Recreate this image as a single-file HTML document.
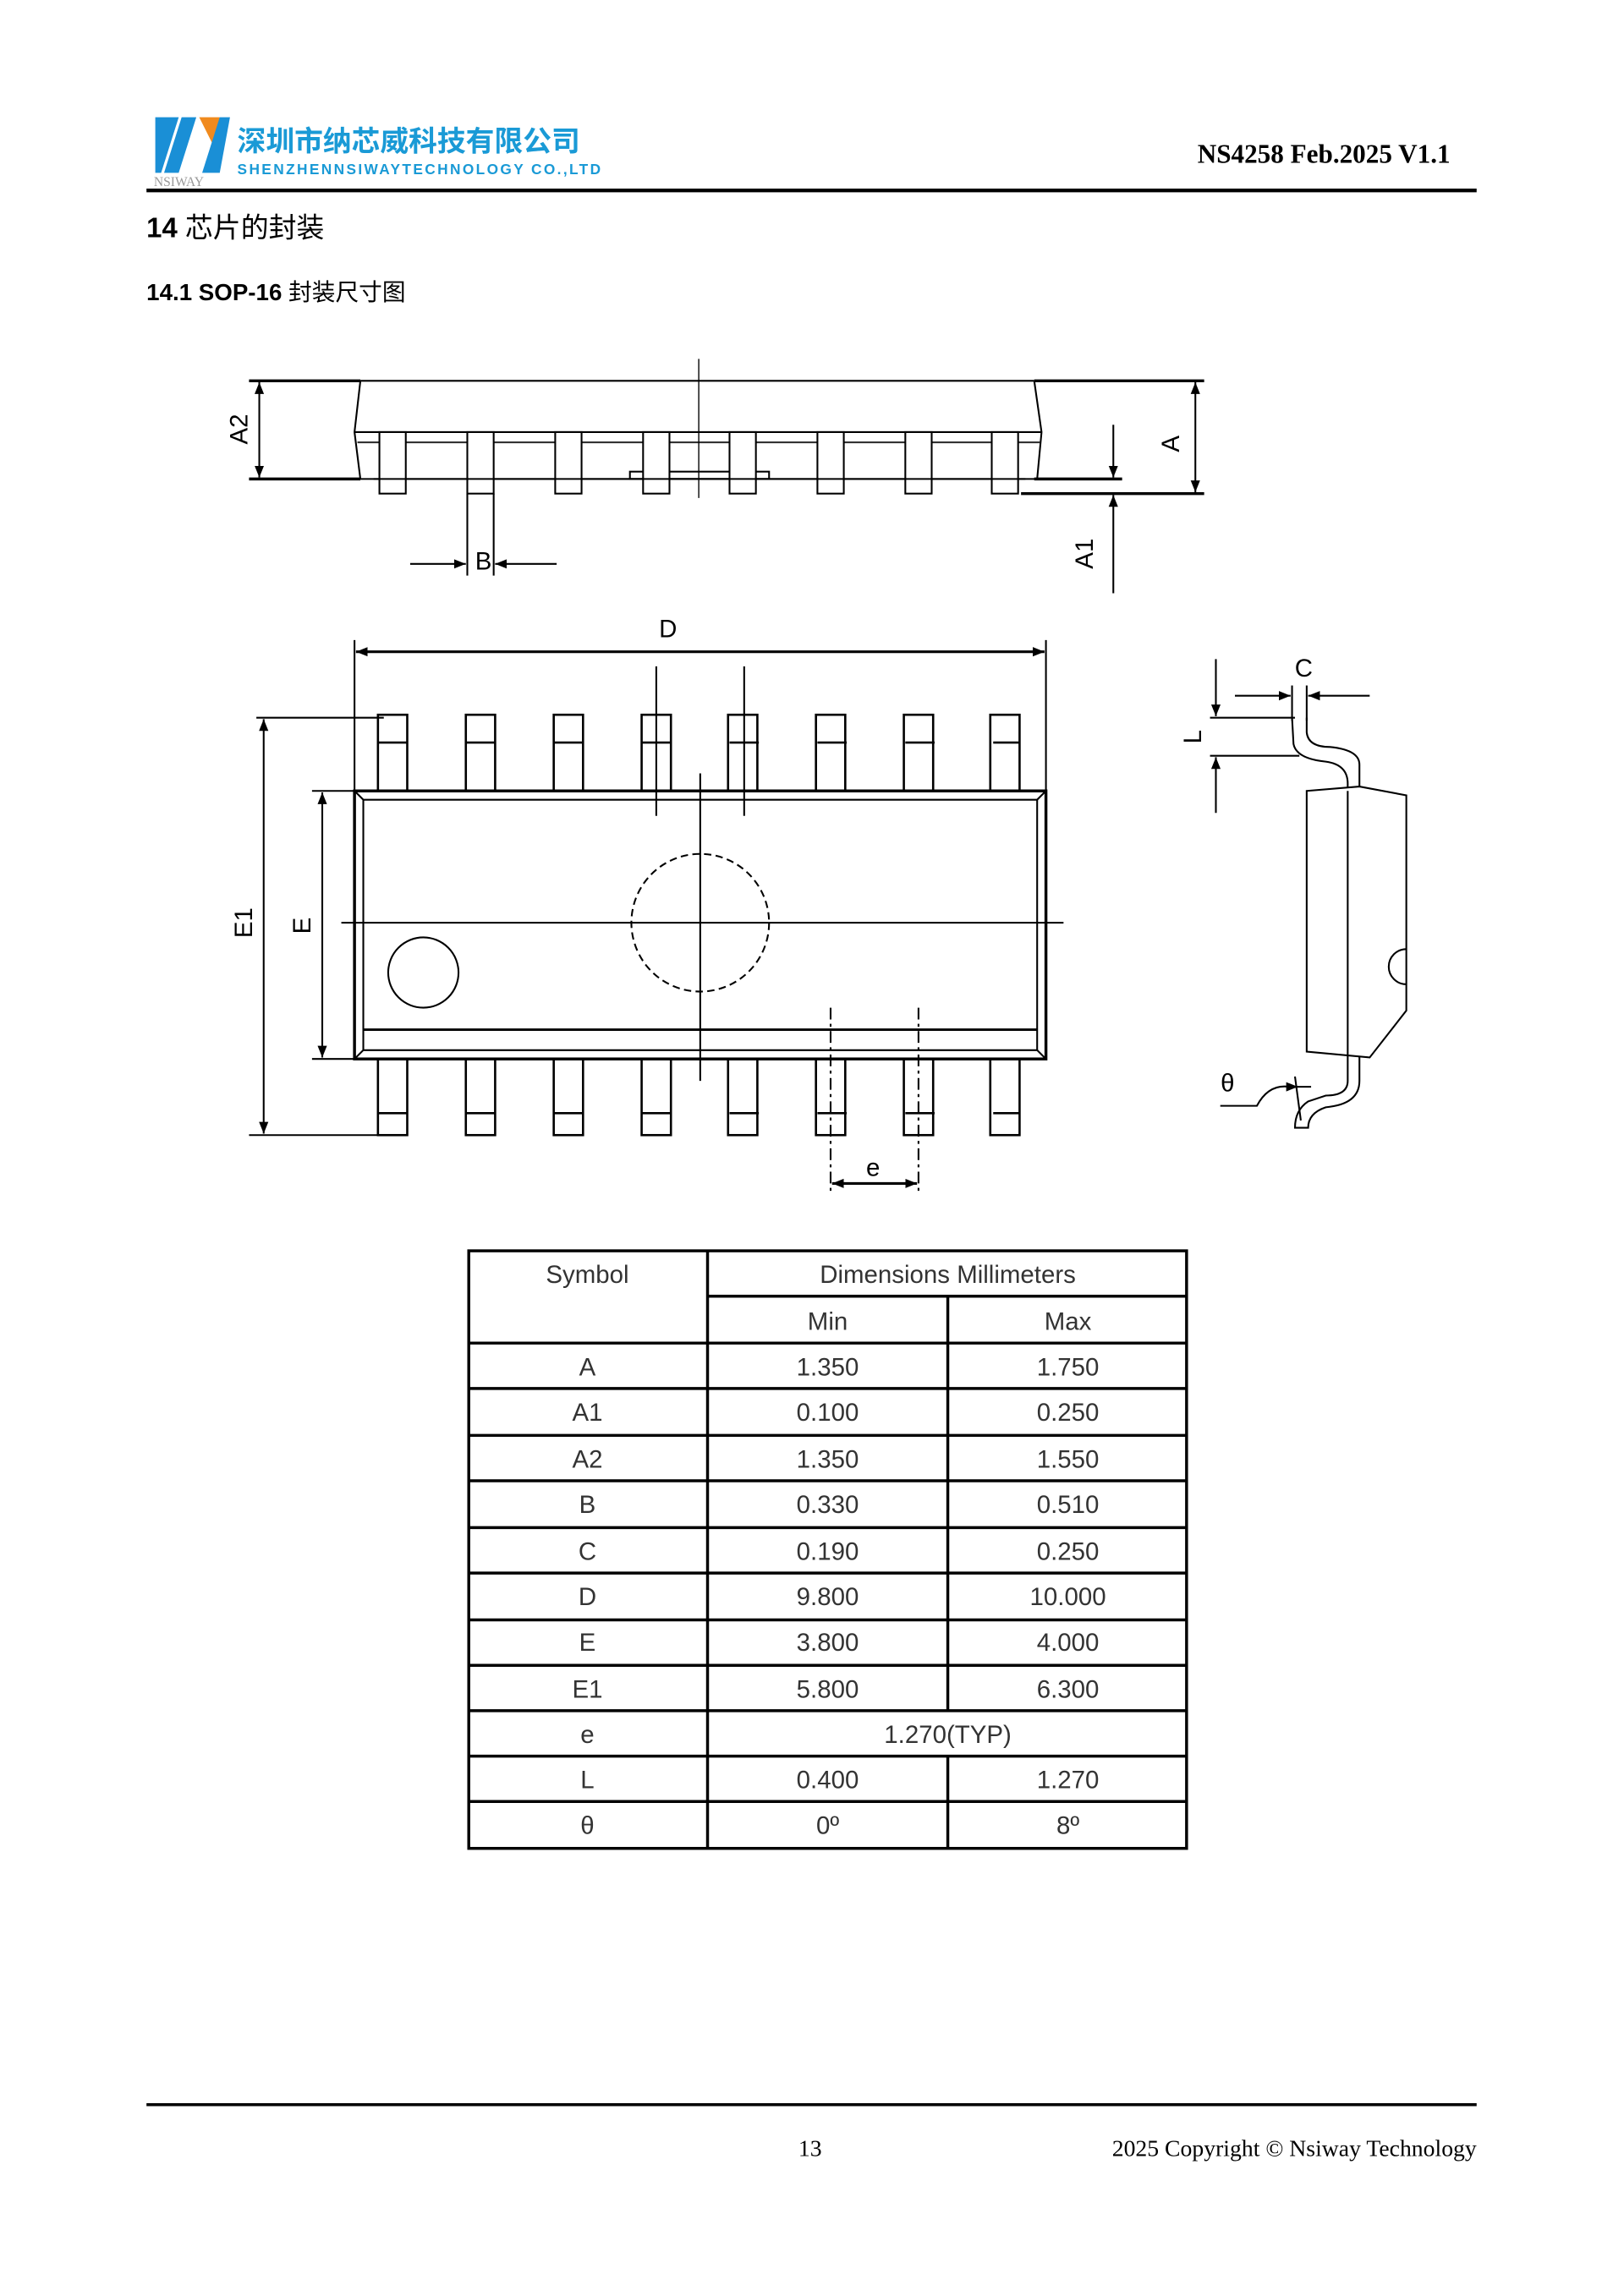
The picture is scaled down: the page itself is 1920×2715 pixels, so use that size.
<!DOCTYPE html>
<html><head><meta charset="utf-8"><style>
html,body{margin:0;padding:0;background:#fff}
svg{display:block}
</style></head><body>
<svg width="1920" height="2715" viewBox="0 0 1108.6 1567.6" xmlns="http://www.w3.org/2000/svg">
<defs>
<marker id="ar" viewBox="0 0 10 10" refX="10" refY="5" markerWidth="8" markerHeight="8" markerUnits="userSpaceOnUse" orient="auto-start-reverse">
<path d="M0,1 L10,5 L0,9 Z" fill="#000"/>
</marker>
</defs>
<rect width="1108.6" height="1567.6" fill="#fff"/>
<!-- Header logo -->
<polygon points="106,80 122,80 110,118 106,118" fill="#1a8fd6"/>
<polygon points="124,80 134,80 122,118 112,118" fill="#1a8fd6"/>
<polygon points="136,80 150,80 146,100" fill="#f08a1e"/>
<polygon points="150,80 157,80 150,118 138,118" fill="#1a8fd6"/>
<text x="105" y="127" font-family="Liberation Serif,serif" font-size="9" fill="#999">NSIWAY</text>
<text x="162" y="103" font-family="Liberation Sans,'Noto Sans CJK SC',sans-serif" font-size="19.5" font-weight="bold" fill="#1a9ad6">深圳市纳芯威科技有限公司</text>
<text x="162" y="119" font-family="Liberation Sans,sans-serif" font-size="10" font-weight="bold" fill="#1a9ad6" textLength="248">SHENZHENNSIWAYTECHNOLOGY CO.,LTD</text>
<text x="990" y="111" text-anchor="end" font-family="Liberation Serif,serif" font-size="18" font-weight="bold" fill="#000">NS4258 Feb.2025 V1.1</text>
<line x1="100" y1="130" x2="1008" y2="130" stroke="#000" stroke-width="2.5"/>
<text x="100" y="162" font-family="Liberation Sans,'Noto Sans CJK SC',sans-serif" font-size="19" font-weight="bold">14 <tspan font-weight="normal">芯片的封装</tspan></text>
<text x="100" y="205" font-family="Liberation Sans,'Noto Sans CJK SC',sans-serif" font-size="16" font-weight="bold">14.1 SOP-16 <tspan font-weight="normal">封装尺寸图</tspan></text>

<g fill="none" stroke="#000" stroke-width="1.2" font-family="Liberation Sans,sans-serif">
<!-- Top side view -->
<line x1="170" y1="260" x2="246" y2="260" stroke-width="2"/>
<line x1="170" y1="327" x2="246" y2="327" stroke-width="2"/>
<line x1="177" y1="261" x2="177" y2="326" marker-start="url(#ar)" marker-end="url(#ar)"/>
<line x1="246" y1="260" x2="706" y2="260"/>
<polyline points="246,260 242,295 246,327"/>
<polyline points="706,260 711,295 708,327"/>
<line x1="242" y1="295" x2="711" y2="295"/>
<line x1="244" y1="302" x2="710" y2="302" stroke="#333"/>
<line x1="246" y1="327" x2="708" y2="327"/>
<line x1="706" y1="260" x2="822" y2="260" stroke-width="2"/>
<rect x="430" y="322" width="95" height="5"/>
<g fill="#fff">
<rect x="259" y="295" width="18" height="42"/><rect x="319" y="295" width="18" height="42"/>
<rect x="379" y="295" width="18" height="42"/><rect x="439" y="295" width="18" height="42"/>
<rect x="498" y="295" width="18" height="42"/><rect x="558" y="295" width="18" height="42"/>
<rect x="618" y="295" width="18" height="42"/><rect x="677" y="295" width="18" height="42"/>
</g>
<line x1="255" y1="327" x2="700" y2="327"/>
<line x1="477" y1="245" x2="477" y2="340" stroke-width="0.8"/>
<line x1="697" y1="337" x2="822" y2="337" stroke-width="2"/>
<line x1="816" y1="261" x2="816" y2="336" marker-start="url(#ar)" marker-end="url(#ar)"/>
<line x1="706" y1="327" x2="766" y2="327" stroke-width="2"/>
<line x1="760" y1="290" x2="760" y2="326" marker-end="url(#ar)"/>
<line x1="760" y1="405" x2="760" y2="338" marker-end="url(#ar)"/>
<line x1="319" y1="337" x2="319" y2="393"/>
<line x1="337" y1="337" x2="337" y2="393"/>
<line x1="280" y1="385" x2="318" y2="385" marker-end="url(#ar)"/>
<line x1="380" y1="385" x2="338" y2="385" marker-end="url(#ar)"/>
</g>
<g font-family="Liberation Sans,sans-serif" font-size="17" fill="#000">
<text transform="translate(169,293) rotate(-90)" text-anchor="middle">A2</text>
<text transform="translate(805,303) rotate(-90)" text-anchor="middle">A</text>
<text transform="translate(746,378) rotate(-90)" text-anchor="middle">A1</text>
<text x="330" y="389" text-anchor="middle">B</text>
<text x="456" y="435" text-anchor="middle">D</text>
<text transform="translate(172,630) rotate(-90)" text-anchor="middle">E1</text>
<text transform="translate(212,632) rotate(-90)" text-anchor="middle">E</text>
<text x="596" y="803" text-anchor="middle">e</text>
<text x="890" y="462" text-anchor="middle">C</text>
<text transform="translate(820,503) rotate(-90)" text-anchor="middle">L</text>
<text x="838" y="745" text-anchor="middle">θ</text>
</g>

<g fill="none" stroke="#000" stroke-width="1.2">
<!-- Main view -->
<line x1="242" y1="437" x2="242" y2="545"/>
<line x1="714" y1="437" x2="714" y2="545"/>
<line x1="243" y1="445" x2="713" y2="445" stroke-width="1.8" marker-start="url(#ar)" marker-end="url(#ar)"/>
<g fill="#fff" stroke-width="1.5">
<rect x="258" y="488" width="20" height="52"/><rect x="318" y="488" width="20" height="52"/>
<rect x="378" y="488" width="20" height="52"/><rect x="438" y="488" width="20" height="52"/>
<rect x="497" y="488" width="20" height="52"/><rect x="557" y="488" width="20" height="52"/>
<rect x="617" y="488" width="20" height="52"/><rect x="676" y="488" width="20" height="52"/>
<rect x="258" y="723" width="20" height="52"/><rect x="318" y="723" width="20" height="52"/>
<rect x="378" y="723" width="20" height="52"/><rect x="438" y="723" width="20" height="52"/>
<rect x="497" y="723" width="20" height="52"/><rect x="557" y="723" width="20" height="52"/>
<rect x="617" y="723" width="20" height="52"/><rect x="676" y="723" width="20" height="52"/>
</g>
<g stroke-width="1.5">
<line x1="258" y1="507" x2="696" y2="507" stroke-dasharray="20,40"/>
<line x1="258" y1="760" x2="696" y2="760" stroke-dasharray="20,40"/>
</g>
<rect x="242" y="540" width="472" height="183" fill="#fff" stroke-width="2"/>
<polyline points="242,540 248,546 708,546 714,540"/>
<polyline points="242,723 248,717 708,717 714,723"/>
<line x1="248" y1="546" x2="248" y2="717"/>
<line x1="708" y1="546" x2="708" y2="717"/>
<line x1="248" y1="703" x2="708" y2="703" stroke-width="1.6"/>
<line x1="233" y1="630" x2="726" y2="630"/>
<line x1="478" y1="528" x2="478" y2="738"/>
<line x1="448" y1="455" x2="448" y2="557"/>
<line x1="508" y1="455" x2="508" y2="557"/>
<circle cx="478" cy="630" r="47" stroke-dasharray="5,3"/>
<ellipse cx="289" cy="664" rx="24" ry="24"/>
<line x1="175" y1="490" x2="262" y2="490"/>
<line x1="170" y1="775" x2="262" y2="775"/>
<line x1="180" y1="491" x2="180" y2="774" marker-start="url(#ar)" marker-end="url(#ar)"/>
<line x1="213" y1="540" x2="246" y2="540"/>
<line x1="213" y1="723" x2="246" y2="723"/>
<line x1="220" y1="541" x2="220" y2="722" marker-start="url(#ar)" marker-end="url(#ar)"/>
<line x1="567" y1="688" x2="567" y2="815" stroke-dasharray="8,3,2,3"/>
<line x1="627" y1="688" x2="627" y2="815" stroke-dasharray="8,3,2,3"/>
<line x1="568" y1="808" x2="626" y2="808" stroke-width="1.8" marker-start="url(#ar)" marker-end="url(#ar)"/>

<!-- Side view -->
<line x1="882" y1="468" x2="882" y2="492"/>
<line x1="892" y1="468" x2="892" y2="492"/>
<line x1="843" y1="475" x2="881" y2="475" marker-end="url(#ar)"/>
<line x1="935" y1="475" x2="893" y2="475" marker-end="url(#ar)"/>
<line x1="830" y1="450" x2="830" y2="489" marker-end="url(#ar)"/>
<line x1="830" y1="555" x2="830" y2="517" marker-end="url(#ar)"/>
<line x1="826" y1="490" x2="884" y2="490"/>
<line x1="826" y1="516" x2="887" y2="516"/>
<path d="M882,490 L883,508 Q885,518 905,520 Q920,522 920,535 L920,738 Q920,748 905,748 L893,752 Q884,758 884,770 L893,770 Q893,760 905,756 Q928,754 928,738 L928,522 Q928,512 908,510 Q893,510 892,500 L892,490"/>
<polygon points="892,540 928,537 960,543 960,690 935,722 892,718" fill="#fff"/>
<path d="M960,648 A12,12 0 0,0 960,672"/>
<line x1="920" y1="540" x2="920" y2="720"/>
<path d="M833,755 L858,755 Q866,740 880,742 L895,742"/>
<line x1="884" y1="735" x2="888" y2="765"/>
<line x1="880" y1="742" x2="886" y2="742" marker-end="url(#ar)"/>
</g>

<!-- Table -->
<g stroke="#000" stroke-width="2" fill="none">
<rect x="320" y="854" width="490" height="408"/>
<line x1="483" y1="854" x2="483" y2="1262"/>
<line x1="647" y1="885" x2="647" y2="1168"/>
<line x1="647" y1="1199" x2="647" y2="1262"/>
<line x1="483" y1="885" x2="810" y2="885"/>
<line x1="320" y1="917" x2="810" y2="917"/>
<line x1="320" y1="948" x2="810" y2="948"/>
<line x1="320" y1="980" x2="810" y2="980"/>
<line x1="320" y1="1011" x2="810" y2="1011"/>
<line x1="320" y1="1043" x2="810" y2="1043"/>
<line x1="320" y1="1074" x2="810" y2="1074"/>
<line x1="320" y1="1106" x2="810" y2="1106"/>
<line x1="320" y1="1137" x2="810" y2="1137"/>
<line x1="320" y1="1168" x2="810" y2="1168"/>
<line x1="320" y1="1199" x2="810" y2="1199"/>
<line x1="320" y1="1230" x2="810" y2="1230"/>
</g>
<g font-family="Liberation Sans,sans-serif" font-size="17" fill="#333" text-anchor="middle">
<text x="401" y="876">Symbol</text>
<text x="647" y="876">Dimensions Millimeters</text>
<text x="565" y="908">Min</text><text x="729" y="908">Max</text>
<text x="401" y="939">A</text><text x="565" y="939">1.350</text><text x="729" y="939">1.750</text>
<text x="401" y="970">A1</text><text x="565" y="970">0.100</text><text x="729" y="970">0.250</text>
<text x="401" y="1002">A2</text><text x="565" y="1002">1.350</text><text x="729" y="1002">1.550</text>
<text x="401" y="1033">B</text><text x="565" y="1033">0.330</text><text x="729" y="1033">0.510</text>
<text x="401" y="1065">C</text><text x="565" y="1065">0.190</text><text x="729" y="1065">0.250</text>
<text x="401" y="1096">D</text><text x="565" y="1096">9.800</text><text x="729" y="1096">10.000</text>
<text x="401" y="1127">E</text><text x="565" y="1127">3.800</text><text x="729" y="1127">4.000</text>
<text x="401" y="1159">E1</text><text x="565" y="1159">5.800</text><text x="729" y="1159">6.300</text>
<text x="401" y="1190">e</text><text x="647" y="1190">1.270(TYP)</text>
<text x="401" y="1221">L</text><text x="565" y="1221">0.400</text><text x="729" y="1221">1.270</text>
<text x="401" y="1252">θ</text><text x="565" y="1252">0º</text><text x="729" y="1252">8º</text>
</g>

<!-- Footer -->
<line x1="100" y1="1437" x2="1008" y2="1437" stroke="#000" stroke-width="2"/>
<text x="553" y="1472" text-anchor="middle" font-family="Liberation Serif,serif" font-size="16">13</text>
<text x="1008" y="1472" text-anchor="end" font-family="Liberation Serif,serif" font-size="16">2025 Copyright © Nsiway Technology</text>
</svg>
</body></html>
